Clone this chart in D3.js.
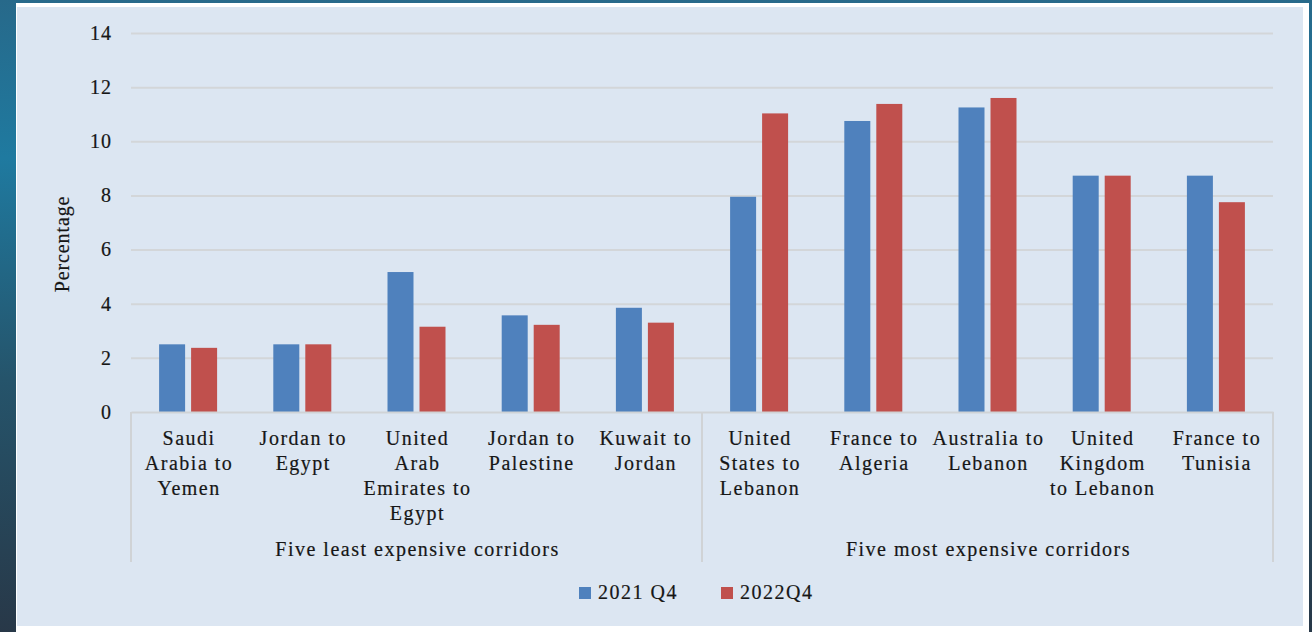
<!DOCTYPE html>
<html>
<head>
<meta charset="utf-8">
<script src="https://cdn.jsdelivr.net/npm/d3@7"></script>
<style>
  html, body { margin: 0; padding: 0; overflow: hidden; }
  svg { display: block; }
  text { font-family: "Liberation Serif", "Times New Roman", serif; fill: #161616; stroke: #161616; stroke-width: 0.2px; }
</style>
</head>
<body>
<svg id="chart" width="1312" height="632"></svg>
<script>
// ---- Data ----
const categories = [
  "Saudi\nArabia to\nYemen",
  "Jordan to\nEgypt",
  "United\nArab\nEmirates to\nEgypt",
  "Jordan to\nPalestine",
  "Kuwait to\nJordan",
  "United\nStates to\nLebanon",
  "France to\nAlgeria",
  "Australia to\nLebanon",
  "United\nKingdom\nto Lebanon",
  "France to\nTunisia"
];
const groups = ["Five least expensive corridors", "Five most expensive corridors"];
const groupSizes = [5, 5];
const seriesNames = ["2021 Q4", "2022Q4"];
const values2021Q4 = [2.5, 2.5, 5.17, 3.57, 3.85, 7.95, 10.75, 11.25, 8.73, 8.73];
const values2022Q4 = [2.37, 2.5, 3.15, 3.22, 3.3, 11.03, 11.38, 11.6, 8.73, 7.75];
const yTicks = [0, 2, 4, 6, 8, 10, 12, 14];
const colors = ["#4f81bd", "#c0504d"];

(function () {
// ---- Layout ----
const W = 1312, H = 632;
const mLeft = 131, mRight = 1273, mTop = 33, mBottom = 412;
const svg = d3.select("#chart");

const defs = svg.append("defs");
const grad = defs.append("linearGradient").attr("id", "bg").attr("x1", 0).attr("y1", 0).attr("x2", 0).attr("y2", 1);
[["0%", "#27698a"], ["25%", "#1f7aa0"], ["60%", "#25546b"], ["100%", "#283848"]].forEach(s =>
  grad.append("stop").attr("offset", s[0]).attr("stop-color", s[1]));
svg.append("rect").attr("width", W).attr("height", H).attr("fill", "url(#bg)");
svg.append("rect").attr("x", 16).attr("y", 3).attr("width", 1293).attr("height", 629).attr("fill", "#ffffff");
svg.append("rect").attr("x", 17).attr("y", 7).attr("width", 1286).attr("height", 619).attr("fill", "#dce6f2");

const x0 = d3.scaleBand().domain(d3.range(categories.length)).range([mLeft, mRight]).padding(0);
const bw = x0.bandwidth();
const x1 = d3.scaleBand().domain(seriesNames).range([bw / 2 - 29, bw / 2 + 29]).paddingInner(0.1875).paddingOuter(0);
const y = d3.scaleLinear().domain([0, 14]).range([mBottom, mTop]);

// gridlines
const grid = svg.append("g").attr("transform", `translate(${mLeft},0)`)
  .call(d3.axisLeft(y).tickValues(yTicks.filter(t => t > 0)).tickSize(-(mRight - mLeft)).tickFormat(""));
grid.select(".domain").remove();
grid.selectAll("line").attr("stroke", "#d3d6d9").attr("stroke-width", 2);

// y axis labels
const yAxis = svg.append("g").attr("transform", `translate(${mLeft},0)`)
  .call(d3.axisLeft(y).tickValues(yTicks).tickSize(0).tickPadding(19).tickFormat(d3.format("d")));
yAxis.select(".domain").remove();
yAxis.selectAll("text").attr("font-size", 20).style("letter-spacing", "1px")
  .attr("font-family", null).attr("fill", null);

// bars
const data = categories.map((c, i) => ({ i, vals: [values2021Q4[i], values2022Q4[i]] }));
const gBars = svg.append("g");
const cat = gBars.selectAll("g").data(data).join("g").attr("transform", d => `translate(${x0(d.i)},0)`);
cat.selectAll("rect").data(d => d.vals.map((v, k) => ({ k, v }))).join("rect")
  .attr("x", d => x1(seriesNames[d.k]))
  .attr("width", x1.bandwidth())
  .attr("y", d => y(d.v))
  .attr("height", d => y(0) - y(d.v))
  .attr("fill", d => colors[d.k]);

// x axis
const xAxis = svg.append("g").attr("transform", `translate(0,${mBottom})`)
  .call(d3.axisBottom(x0).tickSize(0).tickFormat(""));
xAxis.select(".domain").attr("stroke", "#d0d3d6").attr("stroke-width", 2);

// separators
let idx = 0;
const seps = [0];
groupSizes.forEach(n => { idx += n; seps.push(idx); });
svg.append("g").selectAll("line").data(seps).join("line")
  .attr("x1", d => d < categories.length ? x0(d) : mRight)
  .attr("x2", d => d < categories.length ? x0(d) : mRight)
  .attr("y1", mBottom).attr("y2", 562)
  .attr("stroke", "#d0d3d6").attr("stroke-width", 2);

// category labels
const labels = svg.append("g");
categories.forEach((c, i) => {
  const t = labels.append("text").attr("text-anchor", "middle").attr("font-size", 20)
    .style("letter-spacing", "1.5px");
  c.split("\n").forEach((line, j) => {
    t.append("tspan").attr("x", x0(i) + bw / 2 + 1).attr("y", 445 + j * 25).text(line);
  });
});

// group labels
let start = 0;
groups.forEach((g, gi) => {
  const a = x0(start);
  const bEnd = start + groupSizes[gi] < categories.length ? x0(start + groupSizes[gi]) : mRight;
  svg.append("text").attr("x", (a + bEnd) / 2 + 1).attr("y", 556).attr("text-anchor", "middle")
    .attr("font-size", 20).style("letter-spacing", "1.5px").text(g);
  start += groupSizes[gi];
});

// y title
svg.append("text").attr("transform", "translate(69,244) rotate(-90)").attr("text-anchor", "middle")
  .attr("font-size", 20).style("letter-spacing", "0.9px").text("Percentage");

// legend
const legendX = [579, 721];
seriesNames.forEach((s, k) => {
  svg.append("rect").attr("x", legendX[k]).attr("y", 587).attr("width", 12).attr("height", 12).attr("fill", colors[k]);
  svg.append("text").attr("x", legendX[k] + 19).attr("y", 599).attr("font-size", 20)
    .style("letter-spacing", "1.5px").text(s);
});
})();
</script>
</body>
</html>
